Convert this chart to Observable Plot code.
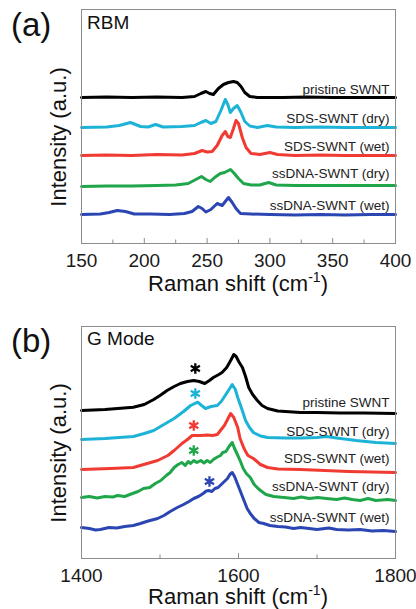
<!DOCTYPE html>
<html><head><meta charset="utf-8">
<script src="https://cdn.jsdelivr.net/npm/d3@7"></script>
<script src="https://cdn.jsdelivr.net/npm/@observablehq/plot@0.6"></script>
<style>
body{margin:0;background:#fff;width:416px;height:609px;overflow:hidden;font-family:"Liberation Sans",Arial,sans-serif}
svg{display:block}
</style></head><body><div id="chart"></div>
<script>
// ---------- common ----------
const seriesNames = ["pristine SWNT","SDS-SWNT (dry)","SDS-SWNT (wet)","ssDNA-SWNT (dry)","ssDNA-SWNT (wet)"];
const seriesColors = ["#000000","#1db3d6","#f03a32","#1fa64a","#2b46b3"];

// ---------- panel (a) RBM : x = Raman shift, y = intensity (offset, a.u.) ----------
const rbmTicks = [150,200,250,300,350,400];
const rbmMinorTicks = [175,225,275,325,375];
const rbmPristineX = [150,170,190,210,230,240,245,249,252,255,259,263,267,271,274,277,280,284,290,310,330,350,370,400];
const rbmPristineY = [146,146.5,146,146.5,146,147,150,152,150,149,155,159,161,162,161,157,151,147,146,146,146.5,146,146,146];
const rbmSdsDryX = [150,170,180,189,197,203,209,215,230,240,245,249,253,257,261,264.5,266.5,268.5,271,274,277,280,284,290,298,305,320,340,360,380,400];
const rbmSdsDryY = [116,116.5,118,121,117,116.5,119,116.5,117,118,121,123,120,122,133,144,139,131,135,138,131,122,117.5,116,118,116.5,116,116.5,116,116,116];
const rbmSdsWetX = [150,170,190,210,230,240,246,250,254,258,262,264.5,266.5,268.5,271,273,275,278,281,285,292,300,306,320,340,360,380,400];
const rbmSdsWetY = [88,88.5,88,89,88.5,90,93,91.5,92,98,108,112,107,106,115,123,120,106,96,90,89,91,89,88,88.5,88,88,88];
const rbmDnaDryX = [150,170,190,210,225,235,241,245.5,249,252.5,256,260.5,264,268.6,271,275,279,285,292,299,305,320,340,360,380,400];
const rbmDnaDryY = [57,57.5,57.5,58,58.5,60,64,67,64,62,66,70,71,74,71,65,60,58.5,58.5,61,58.5,58,58,58,58,58];
const rbmDnaWetX = [150,165,172,178.5,185,192,205,220,232,238,243,246,249,253,258,262,264.5,267,270,273,276.6,285,300,320,340,360,380,400];
const rbmDnaWetY = [29,29.5,31,33,32,29.5,29.5,29,30,32,37,35,31.5,34,40,38,42,46,41,35,30,29.5,29,28.5,29,28.5,29,29];
const rbmLabelY = [150,121,93,66,34];

// ---------- panel (b) G mode ----------
const gTicks = [1400,1600,1800];
const gMinorTicks = [1500,1700];
const gPristineX = [1400,1430,1466,1480,1492,1500,1509,1518,1526,1535,1543,1550,1557,1563,1568,1575,1579,1585,1590,1594,1597,1601,1605,1609,1613,1618,1624,1630,1637,1650,1679,1700,1730,1760,1800];
const gPristineY = [148,149,151.3,154,159,163,168,172,175,177,178,177,175,178,181,184,186,191,198,204,202,196,191,182,171,164,158,153,150,147.5,146,146,145.5,145.5,145];
const gSdsDryX = [1400,1430,1466,1480,1492,1505,1518,1530,1539,1548,1553,1558,1565,1573,1578,1583,1588,1592,1596,1599,1604,1609,1614,1619,1628,1637,1660,1680,1700,1712,1725,1750,1775,1800];
const gSdsDryY = [119,120,122,125,128,134,140,147,153,156.3,153,150,152,153,157,163,169,174,169,161,150,138,131,126,122.5,121,120.5,120.5,121,122,120.5,118,116,115];
const gSdsWetX = [1400,1437,1466,1497,1510,1518,1528,1535,1541,1547,1552,1560,1567,1573,1577,1582,1586,1590,1594,1599,1602,1607,1612,1619,1628,1637,1650,1679,1710,1740,1770,1800];
const gSdsWetY = [89,90,91,98,103,108,115,119,123,123,123,123.5,123,124,128,133,139,145,141,131,120,110,103,100,94,91,89.5,89,88,87,86.5,86];
const gDnaDryX = [1400,1410,1420,1430,1440,1446,1455,1465,1472,1479,1487,1494,1501,1508,1513,1518,1523,1528,1532,1536,1539,1543,1547,1552,1556,1560,1564,1568,1572,1577,1580,1584,1588,1592,1595,1598,1602,1606,1610,1615,1620,1625,1628,1635,1645,1658,1670,1680,1690,1701,1712,1725,1735,1745,1755,1765,1775,1790,1800];
const gDnaDryY = [61,62,60.5,62,61.5,63,62,65,67,70,71,75,78,83,86,91,94,96,93,97,95,98,96,98,95.5,98,96,99,101,103,106,107,112,116,110,105,98,90,85,81,74,70,68,64,62,61,60,61.5,60,61,60,59,60.5,59,58,60,58,59,58];
const gDnaWetX = [1400,1410,1418,1424,1435,1445,1455,1466,1475,1485,1497,1505,1513,1522,1530,1537,1543,1549,1555,1559,1562,1566,1570,1574,1578,1582,1586,1589,1592,1595,1598,1602,1607,1611,1615,1620,1626,1632,1640,1650,1660,1670,1679,1690,1700,1715,1725,1740,1755,1770,1785,1800];
const gDnaWetY = [31,30,28.5,29,31,30.5,32,33,35,37.5,40,43,47,51,54,57,60,62,65,67.5,68,67,70,71,74,77,80,84,86,82,76,68,58,50,45,40,36,35,33,32,31.5,30,31,30,29,30.5,29,28.5,29,27.5,28,27];
const gLabelY = [152,123,96,68,37];
const gStarX = [1545,1545,1543,1543,1563];
const gStarY = [190,165,133,108,77];

// ---------- build tables ----------
function tidy(xs, ys) {
  const out = [];
  xs.forEach((xArr, i) => xArr.forEach((x, j) => out.push({series: seriesNames[i], color: seriesColors[i], x, y: ys[i][j]})));
  return out;
}
const rbmData = tidy([rbmPristineX,rbmSdsDryX,rbmSdsWetX,rbmDnaDryX,rbmDnaWetX],[rbmPristineY,rbmSdsDryY,rbmSdsWetY,rbmDnaDryY,rbmDnaWetY]);
const gData = tidy([gPristineX,gSdsDryX,gSdsWetX,gDnaDryX,gDnaWetX],[gPristineY,gSdsDryY,gSdsWetY,gDnaDryY,gDnaWetY]);
const rbmLabels = seriesNames.map((name, i) => ({name, y: rbmLabelY[i]}));
const gLabels = seriesNames.map((name, i) => ({name, y: gLabelY[i]}));
const gStars = gStarX.map((x, i) => ({x, y: gStarY[i], color: seriesColors[i]}));

const FONT = "Liberation Sans, Arial, sans-serif";
const AXIS = "#8c8c8c";

function panel({data, labels, stars, xDomain, yDomain, height, marginTop, marginBottom, ticks, minor}) {
  return Plot.plot({
    width: 416, height, marginLeft: 81, marginRight: 21, marginTop, marginBottom,
    x: {domain: xDomain, label: null},
    y: {domain: yDomain, axis: null},
    color: {type: "identity"},
    style: {fontFamily: FONT, background: "white", overflow: "visible"},
    marks: [
      Plot.line(data, {x: "x", y: "y", z: "series", stroke: "color", strokeWidth: 3, strokeLinejoin: "round", strokeLinecap: "round"}),
      Plot.frame({stroke: AXIS}),
      Plot.ruleX(ticks, {x: d => d, y1: yDomain[0], y2: yDomain[0] + 5, stroke: AXIS}),
      Plot.ruleX(minor, {x: d => d, y1: yDomain[0], y2: yDomain[0] + 3.5, stroke: AXIS}),
      Plot.axisX({ticks, tickSize: 0, tickPadding: 10, fontSize: 19, fill: "#1a1a1a", label: null, tickFormat: d => String(d)}),
      Plot.text(labels, {frameAnchor: "right", y: "y", text: "name", textAnchor: "end", dx: -6, lineAnchor: "bottom", fontSize: 13.5, fill: "#222"}),
      ...(stars ? [Plot.dot(stars, {x: "x", y: "y", stroke: "color", symbol: "asterisk", r: 5, strokeWidth: 2.3})] : [])
    ]
  });
}

function decorate(svgNode, letter, letterY, name, nameY, ylabelY, xlabelY) {
  const svg = d3.select(svgNode);
  const g = svg.append("g").attr("font-family", FONT).attr("fill", "#111");
  g.append("text").attr("x", 11).attr("y", letterY).attr("text-anchor", "start").attr("font-size", 33).text(letter);
  g.append("text").attr("x", 87).attr("y", nameY).attr("text-anchor", "start").attr("font-size", 19).text(name);
  g.append("text").attr("transform", `translate(66,${ylabelY}) rotate(-90)`).attr("text-anchor", "middle").attr("font-size", 22).text("Intensity (a.u.)");
  const xl = g.append("text").attr("x", 238).attr("y", xlabelY).attr("text-anchor", "middle").attr("font-size", 22);
  xl.append("tspan").text("Raman shift (cm");
  xl.append("tspan").attr("font-size", 14).attr("dy", -9).text("-1");
  xl.append("tspan").attr("dy", 9).text(")");
}

const a = panel({data: rbmData, labels: rbmLabels, stars: null, xDomain: [150,400], yDomain: [0,234], height: 300, marginTop: 9, marginBottom: 57, ticks: rbmTicks, minor: rbmMinorTicks});
decorate(a, "(a)", 36, "RBM", 29, 137, 291);
const b = panel({data: gData, labels: gLabels, stars: gStars, xDomain: [1400,1800], yDomain: [0,232], height: 309, marginTop: 26, marginBottom: 51, ticks: gTicks, minor: gMinorTicks});
decorate(b, "(b)", 52, "G Mode", 45, 153, 304);
document.getElementById("chart").append(a, b);
</script></body></html>
